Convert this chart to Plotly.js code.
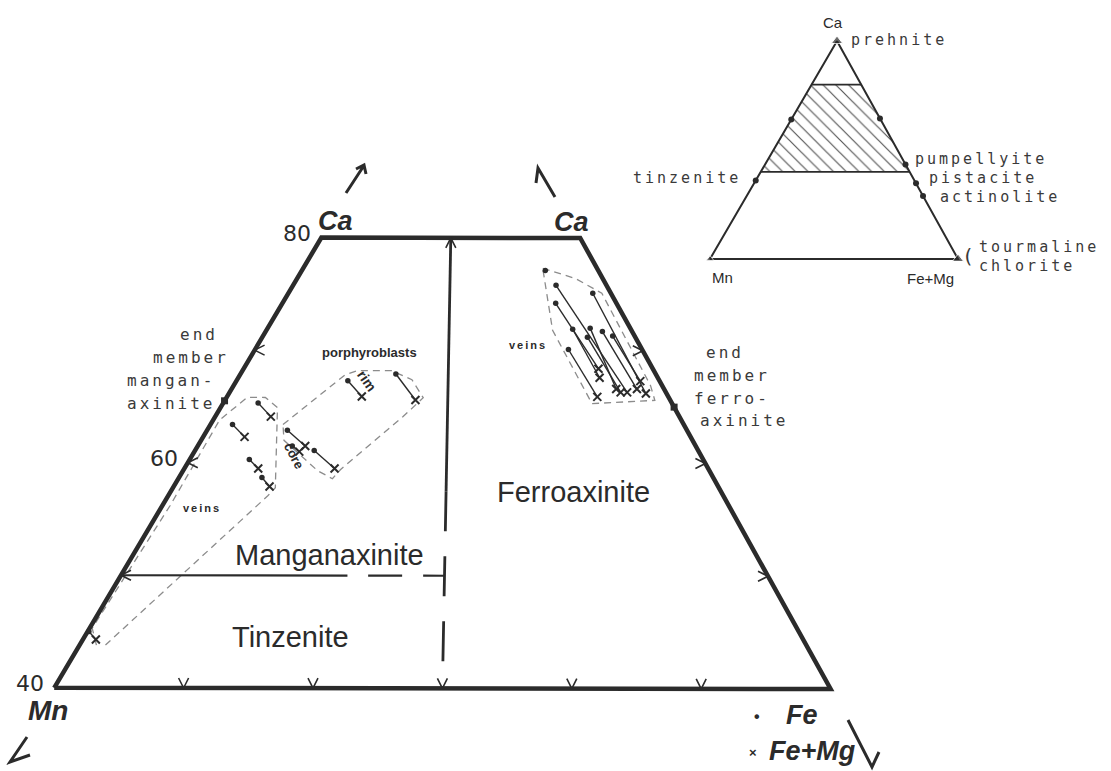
<!DOCTYPE html>
<html>
<head>
<meta charset="utf-8">
<script src="https://cdn.plot.ly/plotly-3.0.1.min.js"></script>
<style>html,body{margin:0;padding:0;background:#fff;}#chart{width:1111px;height:771px;}</style>
</head>
<body>
<div id="chart"></div>
<script>
// ---------------- DATA (atomic %, Mn = 100 - Ca - Fe) ----------------
// main (truncated) diagram, Ca 40..80
const leftTickCa   = [50, 60, 70];          // ticks on Mn–Ca edge
const rightTickCa  = [50, 60, 70];          // ticks on Fe–Ca edge
const bottomTickFe = [10, 20, 30, 40, 50];  // ticks on Ca = 40 edge
const topTickFe    = [10];                  // arrow on Ca = 80 edge
const caLabels      = ['40', '60', '80'];
const caLabelValues = [40, 60, 80];

// veins in manganaxinite field: Fe (dot) -> Fe+Mg (x)
const lvDotCa = [65.3, 63.4, 60.3, 58.7, 45.0];
const lvDotFe = [2.7, 1.7, 4.6, 6.4, 0.1];
const lvXCa   = [64.1, 62.3, 59.5, 57.9, 44.3];
const lvXFe   = [4.3, 3.2, 5.7, 7.4, 1.0];

// porphyroblasts (core / rim)
const pbDotCa = [62.9, 61.5, 61.1, 67.3, 67.9];
const pbDotFe = [6.2, 7.3, 9.2, 8.6, 12.0];
const pbXCa   = [61.5, 61.0, 59.5, 65.9, 65.6];
const pbXFe   = [8.3, 8.1, 11.6, 10.4, 14.7];

// veins in ferroaxinite field
const rvDotCa = [75.8, 74.2, 70.1, 71.9, 72.0, 71.2, 75.1, 71.7, 71.3, 77.1];
const rvDotFe = [20.3, 21.1, 24.2, 23.6, 24.9, 25.1, 23.5, 26.0, 27.0, 18.8];
const rvXCa   = [66.3, 68.4, 65.9, 67.6, 66.6, 66.3, 66.2, 66.6, 67.3, null];
const rvXFe   = [30.7, 27.4, 28.6, 27.9, 29.7, 30.2, 32.2, 31.3, 31.2, null];

// dashed outlines of the groups
const lvOutCa = [43.8, 45.3, 56.2, 63.8, 65.8, 65.8, 64.9, 57.8, 57.1, 43.8];
const lvOutFe = [1.3, 0.2, 0.6, 0.5, 1.6, 3.0, 4.4, 7.9, 7.7, 2.0];
const pbOutCa = [63.4, 67.8, 68.2, 68.2, 67.4, 65.8, 64.1, 59.4, 58.6, 59.3, 62.0, 63.4];
const pbOutFe = [5.6, 8.1, 8.9, 11.5, 13.5, 15.2, 14.5, 12.1, 11.9, 10.4, 6.4, 5.6];
const rvOutCa = [77.3, 76.4, 75.1, 66.9, 65.6, 65.3, 71.8, 77.3];
const rvOutFe = [18.5, 21.5, 24.2, 32.2, 33.2, 28.5, 22.1, 18.5];

// end members
const endCa = [65.5, 65.0];
const endFe = [0, 35.0];

// inset triangle (Ca – Mn – Fe+Mg)
const insetMnEdgeCa = [64, 36];                 // dots on Ca–Mn edge
const insetFeEdgeCa = [64.5, 43.4, 34.7, 28.9]; // dots on Ca–(Fe+Mg) edge
const insetBandCa   = [40, 80];                 // hatched axinite band
const insetCornerCa = [100, 0, 0];
const insetCornerFe = [0, 0, 100];

// ---------------- PROJECTION ----------------
const MAIN  = {ca: [455, 12.5], mn: [-213, 1138], fe: [1081, 1140]};
const INSET = {ca: [837, 41],   mn: [710, 259],   fe: [958, 259]};
function proj(T, ca, fe) {
  const mn = 100 - ca - fe;
  return [(ca * T.ca[0] + mn * T.mn[0] + fe * T.fe[0]) / 100,
          (ca * T.ca[1] + mn * T.mn[1] + fe * T.fe[1]) / 100];
}
function seg(T, cas, fes) {
  const x = [], y = [];
  cas.forEach((c, i) => {
    if (c === null || fes[i] === null) { x.push(null); y.push(null); return; }
    const p = proj(T, c, fes[i]); x.push(p[0]); y.push(p[1]);
  });
  return {x, y};
}
const INK = '#2b2b2b';
function lineTrace(T, cas, fes, color, width, dash, extra) {
  const s = seg(T, cas, fes);
  return Object.assign({type: 'scatter', mode: 'lines', x: s.x, y: s.y,
    line: {color: color, width: width, dash: dash || 'solid'}, hoverinfo: 'skip'}, extra || {});
}
function markerTrace(T, cas, fes, marker) {
  const s = seg(T, cas, fes);
  return {type: 'scatter', mode: 'markers', x: s.x, y: s.y, marker: marker, hoverinfo: 'skip', cliponaxis: false};
}
function ties(dCa, dFe, xCa, xFe) {
  const cas = [], fes = [];
  dCa.forEach((c, i) => {
    if (xCa[i] === null) return;
    cas.push(c, xCa[i], null); fes.push(dFe[i], xFe[i], null);
  });
  return {cas, fes};
}
function tickTrace(points, dir) {
  const x = [], y = [];
  points.forEach(([ca, fe]) => {
    const [px, py] = proj(MAIN, ca, fe);
    let a, b;
    if (dir === 'down')  { a = [px - 5, py - 10]; b = [px + 5, py - 10]; }
    if (dir === 'up')    { a = [px - 5, py + 10]; b = [px + 5, py + 10]; }
    if (dir === 'left')  { a = [px + 10, py - 5]; b = [px + 10, py + 5]; }
    if (dir === 'right') { a = [px - 10, py - 5]; b = [px - 10, py + 5]; }
    x.push(a[0], px, b[0], null); y.push(a[1], py, b[1], null);
  });
  return {type: 'scatter', mode: 'lines', x, y, line: {color: INK, width: 1.6}, hoverinfo: 'skip'};
}

const traces = [];
// inset hatched band
traces.push(lineTrace(INSET,
  [insetBandCa[0], insetBandCa[1], insetBandCa[1], insetBandCa[0], insetBandCa[0]],
  [0, 0, 100 - insetBandCa[1], 100 - insetBandCa[0], 0],
  'rgba(0,0,0,0)', 0, 'solid',
  {fill: 'toself', fillcolor: 'rgba(0,0,0,0)',
   fillpattern: {shape: '\\', size: 9, solidity: 0.13, fgcolor: '#555', bgcolor: 'rgba(0,0,0,0)'}}));
// inset outline and band lines
traces.push(lineTrace(INSET, [100, 0, 0, 100], [0, 0, 100, 0], INK, 2));
insetBandCa.forEach(c => traces.push(lineTrace(INSET, [c, c], [0, 100 - c], INK, 1.8)));
traces.push(markerTrace(INSET, insetCornerCa, insetCornerFe,
  {symbol: 'triangle-up', size: [10, 7, 10], color: INK}));
traces.push(markerTrace(INSET, insetMnEdgeCa, insetMnEdgeCa.map(() => 0), {symbol: 'circle', size: 6, color: INK}));
traces.push(markerTrace(INSET, insetFeEdgeCa, insetFeEdgeCa.map(c => 100 - c), {symbol: 'circle', size: 6, color: INK}));

// group outlines (dashed, grey)
const GREY = '#8c8c8c';
traces.push(lineTrace(MAIN, lvOutCa, lvOutFe, GREY, 1.3, '7px,5px'));
traces.push(lineTrace(MAIN, pbOutCa, pbOutFe, GREY, 1.3, '7px,5px'));
traces.push(lineTrace(MAIN, rvOutCa, rvOutFe, GREY, 1.3, '7px,5px'));

// main trapezoid
traces.push(lineTrace(MAIN, [40, 40, 80, 80, 40], [0, 60, 20, 0, 0], INK, 4.5));
// Mn = Fe divider (solid top, dashed bottom)
traces.push(lineTrace(MAIN, [80, 57.5], [10, 21.25], INK, 2.8));
traces.push(lineTrace(MAIN, [57.5, 40], [21.25, 30], INK, 2.8, '40px,25px'));
// Ca = 50 boundary
traces.push(lineTrace(MAIN, [50, 50], [0, 17.5], INK, 2.2));
traces.push(lineTrace(MAIN, [50, 50], [19.1, 25], INK, 2.2, '34px,21px'));

// ticks
traces.push(tickTrace(leftTickCa.map(c => [c, 0]), 'left'));
traces.push(tickTrace(rightTickCa.map(c => [c, 100 - c]), 'right'));
traces.push(tickTrace(bottomTickFe.map(f => [40, f]), 'down'));
traces.push(tickTrace(topTickFe.map(f => [80, f]), 'up'));

// tie lines
[ties(lvDotCa, lvDotFe, lvXCa, lvXFe), ties(pbDotCa, pbDotFe, pbXCa, pbXFe), ties(rvDotCa, rvDotFe, rvXCa, rvXFe)]
  .forEach(t => traces.push(lineTrace(MAIN, t.cas, t.fes, INK, 1.4)));
// Fe points (dots) and Fe+Mg points (x)
const allDotCa = lvDotCa.concat(pbDotCa, rvDotCa), allDotFe = lvDotFe.concat(pbDotFe, rvDotFe);
const allXCa = lvXCa.concat(pbXCa, rvXCa), allXFe = lvXFe.concat(pbXFe, rvXFe);
traces.push(markerTrace(MAIN, allDotCa, allDotFe, {symbol: 'circle', size: 5.5, color: INK}));
traces.push(markerTrace(MAIN, allXCa, allXFe, {symbol: 'x-thin', size: 8, color: INK, line: {color: INK, width: 2}}));
// end members
traces.push(markerTrace(MAIN, endCa, endFe, {symbol: 'square', size: 7, color: INK}));

// ---------------- TEXT ----------------
const SANS = 'Liberation Sans, Arial, sans-serif';
const MONO = 'DejaVu Sans Mono, monospace';
function ann(text, x, y, opt) {
  return Object.assign({text, x, y, xref: 'x', yref: 'y', showarrow: false,
    font: {family: SANS, size: 14, color: INK}, xanchor: 'center', yanchor: 'middle'}, opt || {});
}
function mono(text, x, y, anchor, size, sp) {
  return ann('<span style="letter-spacing:' + (sp || 3) + 'px">' + text + '</span>', x, y,
    {xanchor: anchor, font: {family: MONO, size: size || 16, color: '#3a3a3a'}});
}
const annotations = [];
caLabels.forEach((t, i) => {
  const p = proj(MAIN, caLabelValues[i], 0);
  annotations.push(ann(t, p[0] - 8, p[1] - 4, {xanchor: 'right', font: {family: 'DejaVu Sans, sans-serif', size: 22, color: INK}}));
});
const BI = {family: SANS, size: 27, color: INK};
annotations.push(ann('<b><i>Ca</i></b>', 335, 221, {font: BI}));
annotations.push(ann('<b><i>Ca</i></b>', 571, 222, {font: BI}));
annotations.push(ann('<b><i>Mn</i></b>', 48, 710, {font: Object.assign({}, BI, {size: 28})}));
annotations.push(ann('<b>•</b>', 757, 716, {font: {family: SANS, size: 16, color: INK}}));
annotations.push(ann('<b><i>Fe</i></b>', 802, 715, {font: BI}));
annotations.push(ann('<b>×</b>', 753, 752, {font: {family: SANS, size: 13, color: INK}}));
annotations.push(ann('<b><i>Fe+Mg</i></b>', 812, 751, {font: BI}));

annotations.push(ann('Manganaxinite', 329, 555, {font: {family: SANS, size: 29, color: INK}}));
annotations.push(ann('Tinzenite', 290, 637, {font: {family: SANS, size: 29, color: INK}}));
annotations.push(ann('Ferroaxinite', 573, 492, {font: {family: SANS, size: 29, color: INK}}));

annotations.push(ann('<b>porphyroblasts</b>', 369, 352, {font: {family: SANS, size: 13, color: INK}}));
annotations.push(ann('<b><span style="letter-spacing:2px">veins</span></b>', 528, 345, {font: {family: SANS, size: 11, color: INK}}));
annotations.push(ann('<b><span style="letter-spacing:2px">veins</span></b>', 202, 508, {font: {family: SANS, size: 11, color: INK}}));
annotations.push(ann('<b>rim</b>', 367, 381, {textangle: 55, font: {family: SANS, size: 14, color: INK}}));
annotations.push(ann('<b>core</b>', 294, 455, {textangle: 62, font: {family: SANS, size: 13, color: INK}}));

annotations.push(mono('end', 178, 334, 'left'));
annotations.push(mono('member', 151, 357, 'left'));
annotations.push(mono('mangan-', 125, 380, 'left'));
annotations.push(mono('axinite', 125, 403, 'left'));
annotations.push(mono('end', 704, 352, 'left'));
annotations.push(mono('member', 692, 375, 'left'));
annotations.push(mono('ferro-', 692, 398, 'left'));
annotations.push(mono('axinite', 698, 420, 'left'));

// inset labels
annotations.push(ann('Ca', 833, 22, {font: {family: SANS, size: 15, color: INK}}));
annotations.push(ann('Mn', 722, 277, {font: {family: SANS, size: 15, color: INK}}));
annotations.push(ann('Fe+Mg', 930, 278, {font: {family: SANS, size: 15, color: INK}}));
annotations.push(mono('prehnite', 849, 40, 'left', 15, 3));
annotations.push(mono('tinzenite', 743, 178, 'right', 15, 3));
annotations.push(mono('pumpellyite', 913, 159, 'left', 15, 3));
annotations.push(mono('pistacite', 927, 178, 'left', 15, 3));
annotations.push(mono('actinolite', 938, 197, 'left', 15, 3));
annotations.push(ann('(', 968, 256, {font: {family: MONO, size: 20, color: '#3a3a3a'}}));
annotations.push(mono('tourmaline', 977, 247, 'left', 15, 3));
annotations.push(mono('chlorite', 977, 266, 'left', 15, 3));

// hand-drawn arrows
const arrowPaths = [
  'M346,193 L363,167 M356,169 L364,165 L366,174',
  'M536,183 L538,168 L555,197',
  'M27,737 L10,762 L30,755',
  'M848,720 L872,767 L879,752'
];
const shapes = arrowPaths.map(p => ({type: 'path', path: p, xref: 'x', yref: 'y',
  line: {color: INK, width: 3}}));

const layout = {
  width: 1111, height: 771,
  margin: {l: 0, r: 0, t: 0, b: 0},
  paper_bgcolor: '#ffffff', plot_bgcolor: '#ffffff',
  showlegend: false,
  xaxis: {range: [0, 1111], visible: false, fixedrange: true},
  yaxis: {range: [771, 0], visible: false, fixedrange: true},
  annotations: annotations,
  shapes: shapes
};
Plotly.newPlot('chart', traces, layout, {staticPlot: true, displayModeBar: false});
</script>
</body>
</html>
